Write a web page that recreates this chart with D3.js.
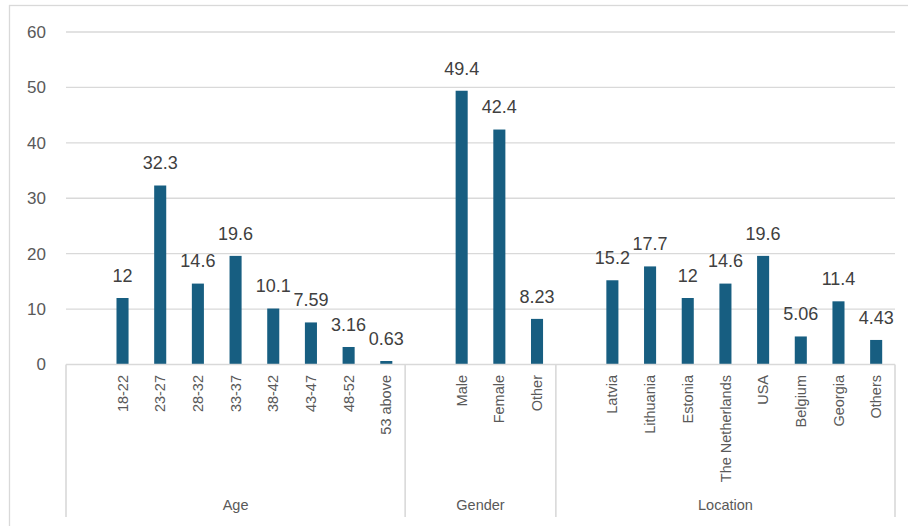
<!DOCTYPE html>
<html>
<head>
<meta charset="utf-8">
<script src="https://cdn.jsdelivr.net/npm/d3@7"></script>
<style>
  html, body { margin: 0; padding: 0; background: #fff; }
  svg { display: block; font-family: "Liberation Sans", Arial, sans-serif; }
</style>
</head>
<body>
<svg id="chart" width="908" height="526"></svg>
<script>
// Survey respondents (%) by age, gender and location
const groupNames = ["Age", "Gender", "Location"];
const ageCategories = ["18-22", "23-27", "28-32", "33-37", "38-42", "43-47", "48-52", "53 above"];
const ageValues = [12, 32.3, 14.6, 19.6, 10.1, 7.59, 3.16, 0.63];
const genderCategories = ["Male", "Female", "Other"];
const genderValues = [49.4, 42.4, 8.23];
const locationCategories = ["Latvia", "Lithuania", "Estonia", "The Netherlands", "USA", "Belgium", "Georgia", "Others"];
const locationValues = [15.2, 17.7, 12, 14.6, 19.6, 5.06, 11.4, 4.43];
const yTicks = [0, 10, 20, 30, 40, 50, 60];

const groups = [
  { name: groupNames[0], cats: ageCategories, vals: ageValues },
  { name: groupNames[1], cats: genderCategories, vals: genderValues },
  { name: groupNames[2], cats: locationCategories, vals: locationValues }
];

// Each group opens with an empty slot, followed by one slot per category
const slots = [];
const bars = [];
groups.forEach(g => {
  slots.push(g.name + "|_");
  g.cats.forEach((c, i) => {
    const key = g.name + "|" + c;
    slots.push(key);
    bars.push({ key, group: g.name, cat: c, value: g.vals[i] });
  });
});

const svg = d3.select("#chart");
const plotLeft = 66, plotRight = 895, plotTop = 32, plotBottom = 364.5;
const axisBottom = 517;

// Outer chart frame
svg.append("rect")
  .attr("x", 9.5).attr("y", 5.5)
  .attr("width", 910).attr("height", 530)
  .attr("fill", "#fff").attr("stroke", "#d9d9d9").attr("stroke-width", 1.3);

const x = d3.scaleBand().domain(slots).range([plotLeft, plotRight]).paddingInner(0).paddingOuter(0);
const y = d3.scaleLinear().domain([0, 60]).range([plotBottom, plotTop]);

// Horizontal gridlines
svg.append("g")
  .selectAll("line")
  .data(yTicks.filter(t => t > 0))
  .join("line")
  .attr("x1", plotLeft).attr("x2", plotRight)
  .attr("y1", d => y(d)).attr("y2", d => y(d))
  .attr("stroke", "#d9d9d9").attr("stroke-width", 1.3);

// Y axis labels
svg.append("g")
  .selectAll("text")
  .data(yTicks)
  .join("text")
  .attr("x", 46).attr("y", d => y(d))
  .attr("dy", "0.35em")
  .attr("text-anchor", "end")
  .attr("font-size", 17)
  .attr("fill", "#595959")
  .text(d => d);

// Bars
const barW = x.bandwidth() * 0.32;
svg.append("g")
  .selectAll("rect")
  .data(bars)
  .join("rect")
  .attr("x", d => x(d.key) + x.bandwidth() / 2 - barW / 2)
  .attr("y", d => y(d.value))
  .attr("width", barW)
  .attr("height", d => y(0) - y(d.value))
  .attr("fill", "#175e81");

// Value labels above bars
svg.append("g")
  .selectAll("text")
  .data(bars)
  .join("text")
  .attr("x", d => x(d.key) + x.bandwidth() / 2)
  .attr("y", d => y(d.value) - 22.5)
  .attr("dy", "0.35em")
  .attr("text-anchor", "middle")
  .attr("font-size", 18)
  .attr("fill", "#404040")
  .text(d => d.value);

// Category axis baseline and group dividers
svg.append("line")
  .attr("x1", plotLeft).attr("x2", plotRight)
  .attr("y1", y(0)).attr("y2", y(0))
  .attr("stroke", "#d9d9d9").attr("stroke-width", 1.6);

const bounds = [plotLeft];
groups.forEach(g => {
  const last = g.name + "|" + g.cats[g.cats.length - 1];
  bounds.push(x(last) + x.bandwidth());
});
svg.append("g")
  .selectAll("line")
  .data(bounds)
  .join("line")
  .attr("x1", d => d).attr("x2", d => d)
  .attr("y1", y(0)).attr("y2", axisBottom)
  .attr("stroke", "#d9d9d9").attr("stroke-width", 1.6);

// Rotated category labels
svg.append("g")
  .selectAll("text")
  .data(bars)
  .join("text")
  .attr("transform", d => `translate(${x(d.key) + x.bandwidth() / 2},375) rotate(-90)`)
  .attr("dy", "0.35em")
  .attr("text-anchor", "end")
  .attr("font-size", 14.5)
  .attr("fill", "#595959")
  .text(d => d.cat);

// Group names
svg.append("g")
  .selectAll("text")
  .data(groups)
  .join("text")
  .attr("x", (d, i) => (bounds[i] + bounds[i + 1]) / 2)
  .attr("y", 505)
  .attr("dy", "0.35em")
  .attr("text-anchor", "middle")
  .attr("font-size", 14.5)
  .attr("fill", "#595959")
  .text(d => d.name);
</script>
</body>
</html>
